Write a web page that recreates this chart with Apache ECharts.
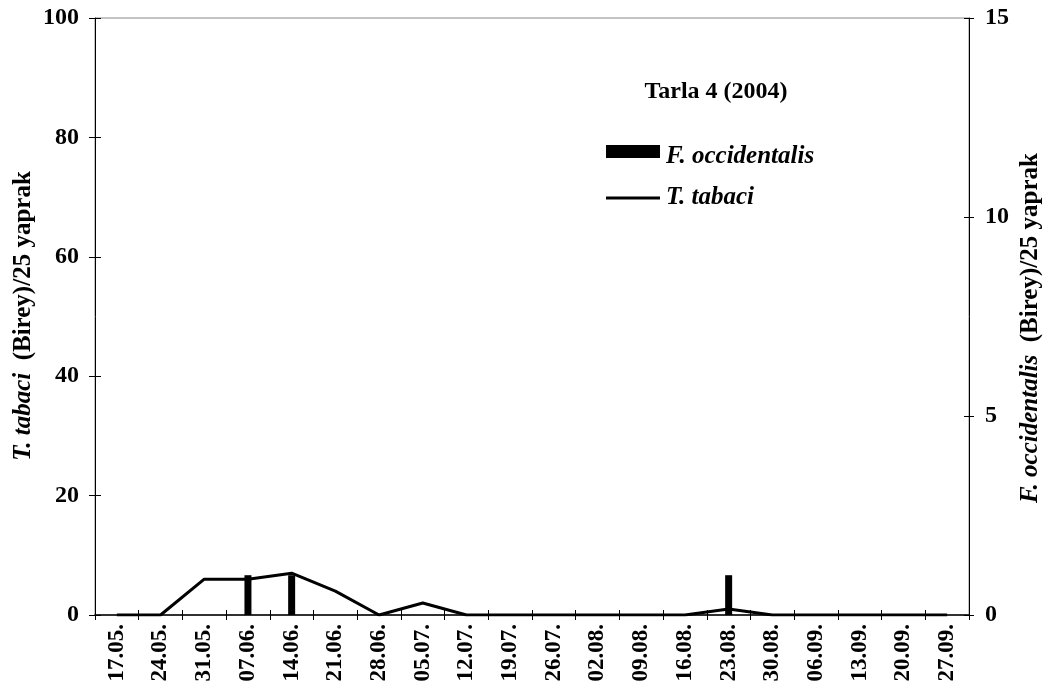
<!DOCTYPE html>
<html>
<head>
<meta charset="utf-8">
<script src="https://cdn.jsdelivr.net/npm/echarts@6/dist/echarts.min.js"></script>
<style>html,body{margin:0;padding:0;background:#fff}#c{width:1048px;height:697px}</style>
</head>
<body>
<div id="c"></div>
<script>
var categories = ['17.05.','24.05.','31.05.','07.06.','14.06.','21.06.','28.06.','05.07.','12.07.','19.07.','26.07.','02.08.','09.08.','16.08.','23.08.','30.08.','06.09.','13.09.','20.09.','27.09.'];
var tabaci = [0,0,6,6,7,4,0,2,0,0,0,0,0,0,1,0,0,0,0,0];
var occidentalis = [0,0,0,1,1,0,0,0,0,0,0,0,0,0,1,0,0,0,0,0];
var leftTicks = [0,20,40,60,80,100];
var rightTicks = [0,5,10,15];

var FONT = '"Liberation Serif","Times New Roman",serif';
var chart = echarts.init(document.getElementById('c'), null, {renderer:'canvas'});
chart.setOption({
  animation:false,
  backgroundColor:'#fff',
  grid: {left:95, right:79, top:18, bottom:82, show:true, borderColor:'#888', borderWidth:1},
  xAxis: [{
    type:'category', data:categories, position:'bottom',
    axisLine:{lineStyle:{color:'#000', width:1.5}},
    axisTick:{show:true, length:5, lineStyle:{color:'#000'}},
    axisLabel:{rotate:90, fontFamily:FONT, fontWeight:'bold', fontSize:23, color:'#000', margin:9, interval:0}
  },{
    type:'category', data:categories, position:'bottom',
    axisLine:{show:false}, axisTick:{show:true, inside:true, length:5, lineStyle:{color:'#000'}},
    axisLabel:{show:false}
  }],
  yAxis: [{
    type:'value', min:0, max:100, interval:20, position:'left',
    axisLine:{show:true, lineStyle:{color:'#000', width:1}},
    axisTick:{show:true, length:6, lineStyle:{color:'#000'}},
    splitLine:{show:false},
    axisLabel:{fontFamily:FONT, fontWeight:'bold', fontSize:24, color:'#000', margin:16,
      formatter:function(v){return leftTicks.indexOf(v)>=0 ? String(v) : '';}}
  },{
    type:'value', min:0, max:15, interval:5, position:'right',
    axisLine:{show:true, lineStyle:{color:'#000', width:1}},
    axisTick:{show:true, length:5, lineStyle:{color:'#000'}},
    splitLine:{show:false},
    axisLabel:{fontFamily:FONT, fontWeight:'bold', fontSize:24, color:'#000', margin:16,
      formatter:function(v){return rightTicks.indexOf(v)>=0 ? String(v) : '';}}
  },{
    type:'value', min:0, max:100, interval:20, position:'left',
    axisLine:{show:false}, axisTick:{show:true, inside:true, length:6, lineStyle:{color:'#000'}},
    splitLine:{show:false}, axisLabel:{show:false}
  },{
    type:'value', min:0, max:15, interval:5, position:'right',
    axisLine:{show:false}, axisTick:{show:true, inside:true, length:5, lineStyle:{color:'#000'}},
    splitLine:{show:false}, axisLabel:{show:false}
  }],
  series: [{
    name:'F. occidentalis', type:'bar', data:occidentalis, yAxisIndex:1, xAxisIndex:0,
    barWidth:7, itemStyle:{color:'#000'}, z:3
  },{
    name:'T. tabaci', type:'line', data:tabaci, yAxisIndex:0, xAxisIndex:0,
    symbol:'none', showSymbol:false, lineStyle:{color:'#000', width:3}, itemStyle:{color:'#000'}, z:4
  }],
  graphic: [{
    type:'text', x:716, y:92,
    style:{text:'Tarla 4 (2004)', font:'bold 24px ' + FONT, fill:'#000', align:'center', verticalAlign:'middle'}
  },{
    type:'rect', shape:{x:606, y:145, width:54, height:13}, style:{fill:'#000'}
  },{
    type:'text', x:666, y:157,
    style:{text:'F. occidentalis', font:'italic bold 25px ' + FONT, fill:'#000', align:'left', verticalAlign:'middle'}
  },{
    type:'line', shape:{x1:606, y1:198, x2:660, y2:198}, style:{stroke:'#000', lineWidth:3}
  },{
    type:'text', x:666, y:198,
    style:{text:'T. tabaci', font:'italic bold 25px ' + FONT, fill:'#000', align:'left', verticalAlign:'middle'}
  },{
    type:'text', x:24, y:316, rotation:Math.PI/2,
    style:{text:'{i|T. tabaci}{n|  (Birey)/25 yaprak}', align:'center', verticalAlign:'middle',
      rich:{i:{fontFamily:FONT, fontStyle:'italic', fontWeight:'bold', fontSize:25, fill:'#000'},
            n:{fontFamily:FONT, fontWeight:'bold', fontSize:25, fill:'#000'}}}
  },{
    type:'text', x:1031, y:328, rotation:Math.PI/2,
    style:{text:'{i|F. occidentalis}{n|  (Birey)/25 yaprak}', align:'center', verticalAlign:'middle',
      rich:{i:{fontFamily:FONT, fontStyle:'italic', fontWeight:'bold', fontSize:25, fill:'#000'},
            n:{fontFamily:FONT, fontWeight:'bold', fontSize:25, fill:'#000'}}}
  }]
});
</script>
</body>
</html>
